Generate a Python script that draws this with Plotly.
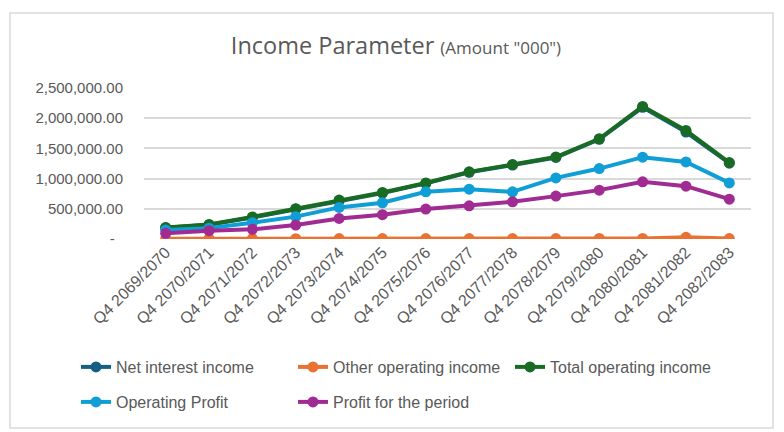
import plotly.graph_objects as go

# categories (quarters)
quarters = ["Q4 2069/2070", "Q4 2070/2071", "Q4 2071/2072", "Q4 2072/2073",
            "Q4 2073/2074", "Q4 2074/2075", "Q4 2075/2076", "Q4 2076/2077",
            "Q4 2077/2078", "Q4 2078/2079", "Q4 2079/2080", "Q4 2080/2081",
            "Q4 2081/2082", "Q4 2082/2083"]

# values (Amount "000")
net_interest_income = [185000, 235000, 355000, 495000, 635000, 760000, 920000,
                       1105000, 1225000, 1350000, 1650000, 2180000, 1770000, 1255000]
other_operating_income = [5000, 6000, 7000, 6000, 7000, 8000, 7000,
                          8000, 7000, 8000, 9000, 10000, 28000, 8000]
total_operating_income = [192000, 242000, 365000, 502000, 645000, 770000, 928000,
                          1112000, 1232000, 1358000, 1660000, 2195000, 1798000, 1265000]
operating_profit = [150000, 180000, 270000, 370000, 523000, 600000, 781000,
                    825000, 781000, 1012000, 1166000, 1355000, 1276000, 929000]
profit_for_period = [94000, 137000, 160000, 231000, 341000, 402000, 495000,
                     550000, 616000, 710000, 809000, 946000, 875000, 660000]

tick_vals = [0, 500000, 1000000, 1500000, 2000000, 2500000]
tick_text = ["-\u00a0\u00a0", "500,000.00", "1,000,000.00", "1,500,000.00",
             "2,000,000.00", "2,500,000.00"]

# (name, values, colour, legend row)
series = [
    ("Net interest income", net_interest_income, "#156082", "legend"),
    ("Other operating income", other_operating_income, "#E97132", "legend"),
    ("Total operating income", total_operating_income, "#196B24", "legend"),
    ("Operating Profit", operating_profit, "#0F9ED5", "legend2"),
    ("Profit for the period", profit_for_period, "#A02B93", "legend2"),
]

# page body has an 8px margin, so the figure is a bit smaller and shifted
OFF = 8
W, H = 784 - OFF, 432 - OFF
ML, MR, MT, MB = 144 - OFF, 33, 88 - OFF, H - (239 - OFF)
pw, ph = W - ML - MR, H - MT - MB

font_legend = "Liberation Sans, Arial, sans-serif"
font_axis = "Liberation Sans, Arial, sans-serif"
grey = "#595959"


# positions measured on the reference page -> paper coords
def px2x(p):
    return (p - OFF - ML) / pw


def py2y(p):
    return (H - MB - (p - OFF)) / ph


fig = go.Figure()
for name, vals, col, leg in series:
    fig.add_trace(go.Scatter(x=quarters, y=vals, name=name,
                             mode="lines+markers", legend=leg,
                             line=dict(color=col, width=4),
                             marker=dict(color=col, size=11)))

fig.add_shape(type="rect", xref="paper", yref="paper",
              x0=px2x(10), x1=px2x(773), y0=py2y(428), y1=py2y(13),
              line=dict(color="#d9d9d9", width=1.5), layer="below")

legend_style = dict(orientation="h", xanchor="left", yanchor="middle",
                    entrywidth=172, traceorder="normal",
                    font=dict(family=font_legend, size=16, color=grey))

fig.update_layout(
    width=W, height=H,
    margin=dict(l=ML, r=MR, t=MT, b=MB),
    paper_bgcolor="white", plot_bgcolor="white",
    title=dict(text='Income Parameter <span style="font-size:17px">(Amount "000")</span>',
               x=0.5, xanchor="center", y=1 - (46 - OFF) / H, yanchor="middle",
               font=dict(family="Open Sans, sans-serif", size=23.5, color=grey)),
    xaxis=dict(type="category", range=[-0.5, len(quarters) - 0.5],
               tickangle=-45, showgrid=False, showline=False,
               ticks="", tickfont=dict(family=font_axis, size=16, color=grey)),
    yaxis=dict(range=[0, 2500000], tickvals=tick_vals, ticktext=tick_text,
               showgrid=True, gridcolor="#d9d9d9", gridwidth=1.5, zeroline=False,
               ticks="", ticklabelstandoff=20,
               tickfont=dict(family=font_axis, size=15, color=grey)),
    legend=dict(legend_style, x=px2x(76), y=py2y(367)),
    legend2=dict(legend_style, x=px2x(76), y=py2y(402)),
    showlegend=True,
)

fig.write_html("out.html")
